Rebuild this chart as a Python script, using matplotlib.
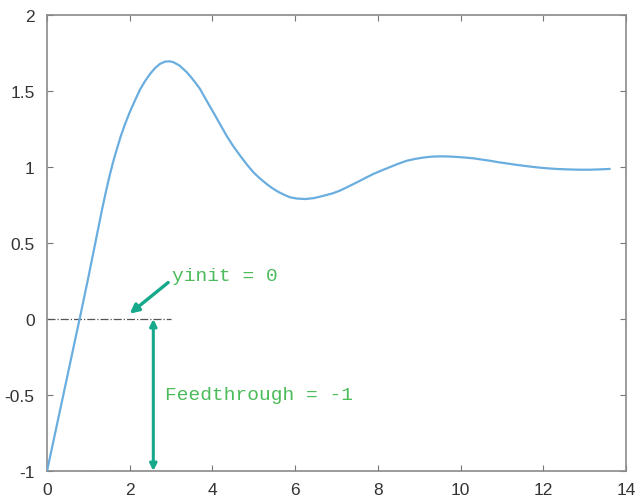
import matplotlib
matplotlib.use("Agg")
import matplotlib.pyplot as plt

# step response
t = [0.0, 0.1, 0.2, 0.3, 0.4, 0.5, 0.6, 0.7, 0.8, 0.9, 1.0, 1.16, 1.33,
     1.43, 1.52, 1.6, 1.68, 1.78, 1.89, 2.0, 2.13, 2.25, 2.37, 2.5, 2.61,
     2.73, 2.85, 2.95, 3.05, 3.2, 3.38, 3.5, 3.6, 3.7, 3.85, 4.02, 4.18,
     4.34, 4.5, 4.67, 4.83, 4.99, 5.15, 5.31, 5.45, 5.6, 5.75, 5.88, 6.05,
     6.24, 6.45, 6.68, 6.9, 7.08, 7.3, 7.5, 7.7, 7.89, 8.1, 8.3, 8.5, 8.7,
     8.9, 9.1, 9.3, 9.5, 9.7, 9.9, 10.1, 10.31, 10.5, 10.71, 10.9, 11.1,
     11.3, 11.52, 11.7, 11.9, 12.1, 12.32, 12.5, 12.7, 12.9, 13.13, 13.35,
     13.6]
y = [-1.0, -0.873, -0.746, -0.619, -0.492, -0.365, -0.238, -0.11, 0.015,
     0.145, 0.275, 0.49, 0.72, 0.845, 0.95, 1.035, 1.11, 1.2, 1.285, 1.36,
     1.44, 1.51, 1.565, 1.615, 1.65, 1.678, 1.693, 1.695, 1.69, 1.668,
     1.623, 1.585, 1.55, 1.513, 1.44, 1.36, 1.283, 1.206, 1.138, 1.074,
     1.017, 0.965, 0.924, 0.888, 0.86, 0.835, 0.815, 0.80, 0.792, 0.789,
     0.795, 0.81, 0.826, 0.844, 0.873, 0.90, 0.928, 0.954, 0.978, 1.0, 1.022,
     1.041, 1.053, 1.062, 1.068, 1.070, 1.069, 1.066, 1.062, 1.057, 1.049,
     1.041, 1.032, 1.024, 1.016, 1.008, 1.002, 0.996, 0.991, 0.987, 0.985,
     0.983, 0.982, 0.982, 0.984, 0.987]

xticks = [0, 2, 4, 6, 8, 10, 12, 14]
yticks = [-1, -0.5, 0, 0.5, 1, 1.5, 2]
ytick_labels = ["-1", "-0.5", "0", "0.5", "1", "1.5", "2"]

yinit = 0
feedthrough = -1
guide_end = 3.0
arrow_x = 2.57

fig = plt.figure(figsize=(6.39, 5.02), dpi=100)
ax = fig.add_axes([0.0736, 0.0598, 0.9061, 0.9084])

ax.plot(t, y, color="#6aaee0", lw=1.6, zorder=3)

# reference lines at yinit and feedthrough
ax.plot([0, guide_end], [yinit, yinit], color="#555555", lw=0.9, ls="-.")
ax.plot([0, guide_end], [feedthrough, feedthrough], color="#555555", lw=0.9, ls="-.")

teal = "#15a88a"
green = "#4cbb5a"
ax.annotate("", xy=(arrow_x, feedthrough), xytext=(arrow_x, yinit),
            arrowprops=dict(arrowstyle="<|-|>", color=teal, lw=2.2,
                            mutation_scale=10, shrinkA=0, shrinkB=0))
ax.annotate("", xy=(2.0, 0.035), xytext=(2.93, 0.24),
            arrowprops=dict(arrowstyle="-|>", color=teal, lw=2.4,
                            mutation_scale=13, shrinkA=0, shrinkB=0))
ax.text(3.02, 0.285, "yinit = 0", color=green, fontsize=14,
        family="Liberation Mono", va="center", ha="left")
ax.text(2.85, -0.5, "Feedthrough = -1", color=green, fontsize=14,
        family="Liberation Mono", va="center", ha="left")

ax.set_xlim(0, 14)
ax.set_ylim(-1, 2)
ax.set_xticks(xticks)
ax.set_xticklabels([str(v) for v in xticks])
ax.set_yticks(yticks)
ax.set_yticklabels(ytick_labels)
ax.tick_params(direction="in", top=True, right=True, length=4, width=0.8,
               color="#777777", labelcolor="#333333", labelsize=12.5)
ax.tick_params(axis="x", pad=8)
ax.tick_params(axis="y", pad=9)
for lbl in ax.get_xticklabels() + ax.get_yticklabels():
    lbl.set_family("Liberation Sans")
for s in ax.spines.values():
    s.set_color("#8a8a8a")
    s.set_linewidth(1.2)

fig.savefig("out.png", dpi=100)
